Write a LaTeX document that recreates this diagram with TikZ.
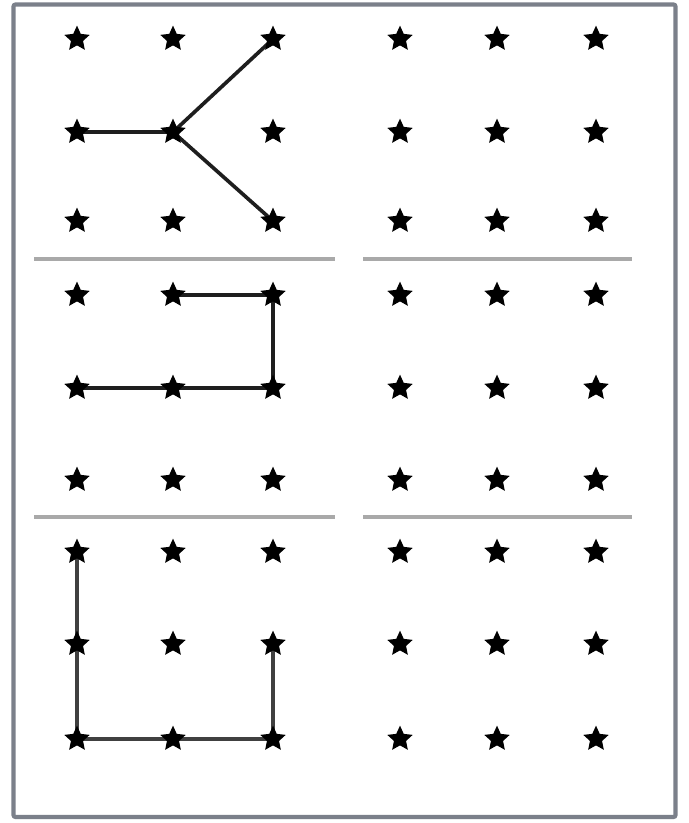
\documentclass[tikz,border=0pt]{standalone}
\usepackage{xcolor}
\definecolor{frameslate}{HTML}{7B808A}
\definecolor{rulegray}{HTML}{A9A9A9}
\definecolor{inkdark}{HTML}{1E1E1E}
\usetikzlibrary{shapes.geometric,backgrounds}

\begin{document}
\begin{tikzpicture}[
  x=0.025cm, y=-0.025cm,
  dot/.style={star, star points=5, star point ratio=2.1, fill=black, draw=none,
              inner sep=0pt, minimum size=19},
  pathline/.style={line width=2.6pt, inkdark, line join=miter},
  sepline/.style={line width=2.4pt, rulegray},
  frame/.style={line width=3pt, frameslate, rounded corners=1.5pt},
]
\useasboundingbox (0,0) rectangle (689,823);

% ================= outer frame
\draw[frame] (13.5,4.5) rectangle (675.5,817);

% ================= six star grids, named (panel-col-row)
\foreach \pan/\xa/\xb/\xc/\ya/\yb/\yc in {
    tl/77/173/273/39/132/221, tr/400/497/596/39/132/221,
    ml/77/173/273/295/388/480, mr/400/497/596/295/388/480,
    bl/77/173/273/552/644/739, br/400/497/596/552/644/739} {
  \foreach \c/\x in {1/\xa,2/\xb,3/\xc} {
    \foreach \r/\y in {1/\ya,2/\yb,3/\yc} {
      \node[dot] (\pan-\c-\r) at (\x,\y) {};
    }
  }
}

% ================= separators between the rows of grids
\draw[sepline] (34,259) -- (335,259);
\draw[sepline] (363,259) -- (632,259);
\draw[sepline] (34,517) -- (335,517);
\draw[sepline] (363,517) -- (632,517);

% ================= the drawn figures
\begin{scope}[on background layer]
\draw[pathline] (tl-1-2.center) -- (tl-2-2.center);
\draw[pathline] (tl-2-2.center) -- (tl-3-1.center);
\draw[pathline] (tl-2-2.center) -- (tl-3-3.center);

\draw[pathline] (ml-2-1.center) -- (ml-3-1.center) -- (ml-3-2.center)
  -- (ml-1-2.center);

\draw[pathline, black!75] (bl-1-1.center) -- (bl-1-3.center) -- (bl-3-3.center)
  -- (bl-3-2.center);
\end{scope}
\end{tikzpicture}
\end{document}
